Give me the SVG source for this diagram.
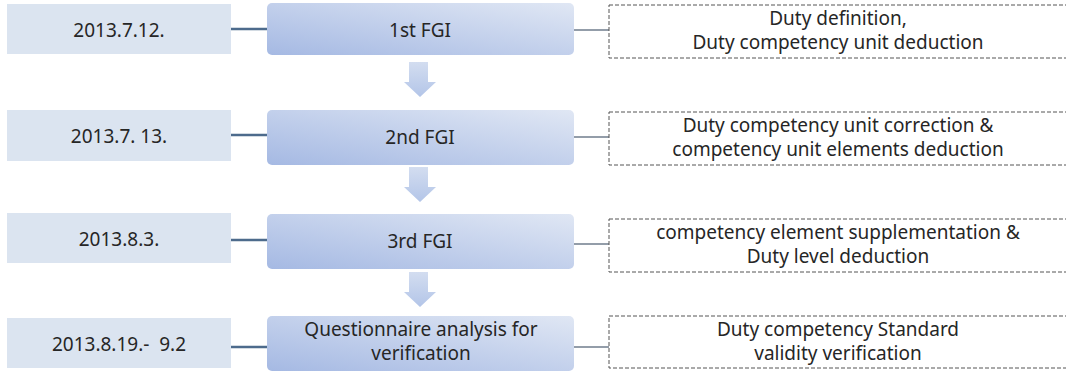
<svg xmlns="http://www.w3.org/2000/svg" width="1066" height="372" viewBox="0 0 1066 372">
<style>
text{font-family:"Noto Sans","Liberation Sans",sans-serif;font-size:19px;fill:#262626;text-anchor:middle}
.date{fill:#dbe4f0}
.mid{fill:url(#gMid)}
.note{fill:#fff;stroke:#555;stroke-width:1;stroke-dasharray:4 2}
.lk{stroke:#4d6b8c;stroke-width:2.5;fill:none}
.rk{stroke:#6f7c8c;stroke-width:1.5;fill:none}
.arr{fill:url(#gArr)}
</style>
<defs>
<linearGradient id="gMid" x1="0" y1="1" x2="1" y2="0">
<stop offset="0" stop-color="#a5b9e3"/>
<stop offset="1" stop-color="#e0e7f4"/>
</linearGradient>
<linearGradient id="gArr" x1="0" y1="0" x2="0" y2="1">
<stop offset="0" stop-color="#d3ddf0"/>
<stop offset="1" stop-color="#b3c5e8"/>
</linearGradient>
<path id="arrow" d="M409 0 H428 V20 H436 L420 35 L404 20 H409 Z"/>
</defs>
<g id="connectors">
<line class="lk" x1="231" y1="29" x2="267" y2="29"/>
<line class="rk" x1="574" y1="30" x2="609" y2="30"/>
<line class="lk" x1="231" y1="135" x2="267" y2="135"/>
<line class="rk" x1="574" y1="137" x2="609" y2="137"/>
<line class="lk" x1="231" y1="240" x2="267" y2="240"/>
<line class="rk" x1="574" y1="244" x2="609" y2="244"/>
<line class="lk" x1="231" y1="347" x2="267" y2="347"/>
<line class="rk" x1="574" y1="347" x2="609" y2="347"/>
<use href="#arrow" class="arr" y="62"/>
<use href="#arrow" class="arr" y="167"/>
<use href="#arrow" class="arr" y="272"/>
</g>
<g id="date1"><rect class="date" x="7" y="4" width="224" height="50"/><text x="119" y="37">2013.7.12.</text></g>
<g id="date2"><rect class="date" x="7" y="110" width="224" height="51"/><text x="119" y="143">2013.7. 13.</text></g>
<g id="date3"><rect class="date" x="7" y="213" width="224" height="50"/><text x="119" y="246">2013.8.3.</text></g>
<g id="date4"><rect class="date" x="7" y="318" width="224" height="50"/><text x="119" y="351" xml:space="preserve">2013.8.19.-  9.2</text></g>
<g id="step1"><rect class="mid" x="267" y="3" width="307" height="52" rx="5"/><text x="420" y="37">1st FGI</text></g>
<g id="step2"><rect class="mid" x="267" y="110" width="307" height="55" rx="5"/><text x="420" y="144">2nd FGI</text></g>
<g id="step3"><rect class="mid" x="267" y="214" width="307" height="55" rx="5"/><text x="420" y="248">3rd FGI</text></g>
<g id="step4"><rect class="mid" x="267" y="316" width="307" height="55" rx="5"/><text x="421" y="336">Questionnaire analysis  for</text><text x="421" y="360">verification</text></g>
<g id="note1"><rect class="note" x="609" y="5" width="458" height="53"/><text x="838" y="25">Duty definition,</text><text x="838" y="49">Duty competency unit deduction</text></g>
<g id="note2"><rect class="note" x="609" y="112" width="458" height="53"/><text x="838" y="132">Duty competency unit correction &amp;</text><text x="838" y="156">competency unit elements deduction</text></g>
<g id="note3"><rect class="note" x="609" y="219" width="458" height="53"/><text x="838" y="239">competency element supplementation &amp;</text><text x="838" y="263">Duty level deduction</text></g>
<g id="note4"><rect class="note" x="609" y="316" width="458" height="52"/><text x="838" y="336">Duty competency Standard</text><text x="838" y="360">validity verification</text></g>
</svg>
